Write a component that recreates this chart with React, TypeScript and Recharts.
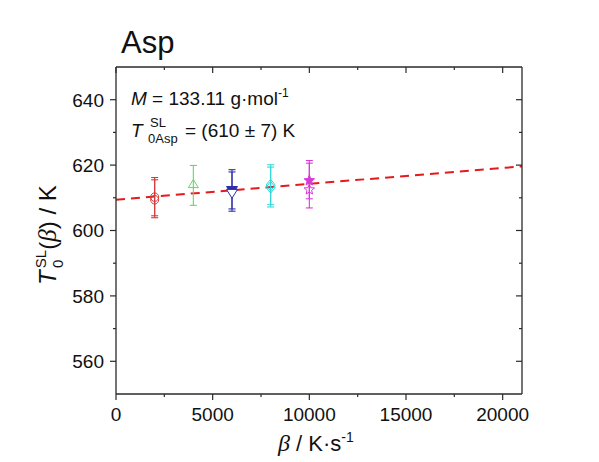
import React from 'react';
import { ComposedChart, XAxis, YAxis, Scatter, Line, ErrorBar, Label } from 'recharts';

const SANS = '"Liberation Sans", Arial, sans-serif';
const SERIF = '"Liberation Serif", "Times New Roman", serif';
const AXIS = '#2a2a2a';

// heating rates β / K·s⁻¹
const rates = [2000, 4000, 6000, 8000, 10000];
const seriesColors = ['#d23a3a', '#66d866', '#2e2eaa', '#33d8d8', '#d83ad8'];
const seriesShapes = ['circle', 'triangle', 'triangleDown', 'diamond', 'star'];

// first measurement run
const runAValues = [610.2, 614.2, 612.3, 613.9, 615.3];
const runALow = [5.7, 6.5, 5.7, 6.0, 5.6];
const runAHigh = [6.0, 5.7, 6.3, 6.2, 5.3];
const runAFill = ['none', 'none', 'solid', 'none', 'solid'];

// second measurement run
const runBValues = [609.4, null, 611.4, 613.2, 612.5];
const runBLow = [5.5, null, 5.5, 6.0, 5.6];
const runBHigh = [6.1, null, 6.5, 6.2, 8.9];
const runBFill = ['none', 'none', 'white', 'none', 'none'];

// linear fit
const fitBeta = [0, 21000];
const fitT = [609.4, 619.6];

// ticks
const xTicks = [0, 2500, 5000, 7500, 10000, 12500, 15000, 17500, 20000];
const xMajor = [0, 5000, 10000, 15000, 20000];
const yTicks = [560, 570, 580, 590, 600, 610, 620, 630, 640];
const yMajor = [560, 580, 600, 620, 640];

const fitData = fitBeta.map((b, i) => ({ beta: b, T: fitT[i] }));

const groups = rates.map((beta, i) => {
  const pts: any[] = [];
  pts.push({ beta, T: runAValues[i], err: [runALow[i], runAHigh[i]], color: seriesColors[i], shape: seriesShapes[i], fill: runAFill[i] });
  if (runBValues[i] != null) {
    pts.push({ beta, T: runBValues[i], err: [runBLow[i], runBHigh[i]], color: seriesColors[i], shape: seriesShapes[i], fill: runBFill[i] });
  }
  return { color: seriesColors[i], points: pts };
});

function starPoints(cx: number, cy: number, ro: number, ri: number) {
  const p: string[] = [];
  for (let k = 0; k < 10; k++) {
    const r = k % 2 === 0 ? ro : ri;
    const a = -Math.PI / 2 + (k * Math.PI) / 5;
    p.push(`${cx + r * Math.cos(a)},${cy + r * Math.sin(a)}`);
  }
  return p.join(' ');
}

const Marker = (props: any) => {
  const { cx, cy, payload } = props;
  if (cx == null || cy == null) return <g />;
  const color = payload.color;
  const fill = payload.fill === 'solid' ? color : payload.fill === 'white' ? '#ffffff' : 'none';
  const common = { stroke: color, strokeWidth: 1, fill };
  switch (payload.shape) {
    case 'circle':
      return <ellipse cx={cx} cy={cy} rx={4} ry={4.3} {...common} />;
    case 'triangle':
      return <polygon points={`${cx},${cy - 4.5} ${cx + 5},${cy + 3.5} ${cx - 5},${cy + 3.5}`} {...common} />;
    case 'triangleDown':
      return <polygon points={`${cx - 5.5},${cy - 3.8} ${cx + 5.5},${cy - 3.8} ${cx},${cy + 5}`} {...common} />;
    case 'diamond':
      return <polygon points={`${cx},${cy - 5.8} ${cx + 4.6},${cy} ${cx},${cy + 5.8} ${cx - 4.6},${cy}`} {...common} />;
    case 'star':
      return <polygon points={starPoints(cx, cy, 5.5, 2.4)} {...common} />;
    default:
      return <g />;
  }
};

const BottomTick = (props: any) => {
  const { x, y, payload } = props;
  const major = xMajor.includes(payload.value);
  return (
    <g>
      <line x1={x} y1={y} x2={x} y2={y + (major ? 6 : 3)} stroke={AXIS} strokeWidth={1.2} />
      {major && (
        <text x={x} y={y + 27} textAnchor="middle" fontFamily={SANS} fontSize={19} fill="#111">
          {payload.value}
        </text>
      )}
    </g>
  );
};

const TopTick = (props: any) => {
  const { x, y, payload } = props;
  const major = xMajor.includes(payload.value);
  return <line x1={x} y1={y} x2={x} y2={y + (major ? 6 : 3)} stroke={AXIS} strokeWidth={1.2} />;
};

const LeftTick = (props: any) => {
  const { x, y, payload } = props;
  const major = yMajor.includes(payload.value);
  return (
    <g>
      <line x1={x - (major ? 6 : 3)} y1={y} x2={x} y2={y} stroke={AXIS} strokeWidth={1.2} />
      {major && (
        <text x={x - 12} y={y + 6.8} textAnchor="end" fontFamily={SANS} fontSize={19} fill="#111">
          {payload.value}
        </text>
      )}
    </g>
  );
};

const RightTick = (props: any) => {
  const { x, y, payload } = props;
  const major = yMajor.includes(payload.value);
  return <line x1={x - (major ? 6 : 3)} y1={y} x2={x} y2={y} stroke={AXIS} strokeWidth={1.2} />;
};

const XTitle = (props: any) => {
  const vb = props.viewBox || { x: 116, y: 394, width: 406 };
  const cx = vb.x + vb.width / 2;
  return (
    <text x={cx - 41} y={vb.y + 57} fontFamily={SANS} fontSize={22} fill="#111">
      <tspan fontFamily={SERIF} fontStyle="italic" fontSize={24}>β</tspan>
      <tspan> / K·s</tspan>
      <tspan fontSize={14} dy={-9}>-1</tspan>
    </text>
  );
};

const YTitle = (props: any) => {
  const vb = props.viewBox || { x: 0, y: 67 };
  const x = vb.x + 56;
  const y = vb.y + 218;
  return (
    <text transform={`translate(${x}, ${y}) rotate(-90)`} x={0} y={0} fontFamily={SANS} fontSize={24} fill="#111">
      <tspan fontStyle="italic">T</tspan>
      <tspan fontSize={15} dx={2} dy={-10}>SL</tspan>
      <tspan fontSize={15} dx={-18} dy={17}>0</tspan>
      <tspan dx={10} dy={-7}>(</tspan>
      <tspan fontFamily={SERIF} fontStyle="italic" fontSize={25}>β</tspan>
      <tspan>) / K</tspan>
    </text>
  );
};

export default function App() {
  return (
    <div style={{ position: 'fixed', left: 0, top: 0, width: 599, height: 462, background: '#ffffff' }}>
      <ComposedChart width={599} height={462} margin={{ top: 66, right: 76, bottom: 0, left: 0 }}>
        <XAxis
          xAxisId="b"
          dataKey="beta"
          type="number"
          domain={[0, 21000]}
          ticks={xTicks}
          interval={0}
          tick={(p: any) => <BottomTick {...p} />}
          tickLine={false}
          tickSize={0}
          tickMargin={0}
          height={68}
          axisLine={{ stroke: AXIS, strokeWidth: 1.3 }}
          allowDataOverflow
        >
          <Label content={XTitle} />
        </XAxis>
        <XAxis
          xAxisId="t"
          orientation="top"
          dataKey="beta"
          type="number"
          domain={[0, 21000]}
          ticks={xTicks}
          interval={0}
          tick={(p: any) => <TopTick {...p} />}
          tickLine={false}
          tickSize={0}
          tickMargin={0}
          height={1}
          axisLine={{ stroke: AXIS, strokeWidth: 1.3 }}
          allowDataOverflow
        />
        <YAxis
          yAxisId="l"
          dataKey="T"
          type="number"
          domain={[550, 650]}
          ticks={yTicks}
          interval={0}
          tick={(p: any) => <LeftTick {...p} />}
          tickLine={false}
          tickSize={0}
          tickMargin={0}
          width={116}
          axisLine={{ stroke: AXIS, strokeWidth: 1.3 }}
          allowDataOverflow
        >
          <Label content={YTitle} />
        </YAxis>
        <YAxis
          yAxisId="r"
          orientation="right"
          dataKey="T"
          type="number"
          domain={[550, 650]}
          ticks={yTicks}
          interval={0}
          tick={(p: any) => <RightTick {...p} />}
          tickLine={false}
          tickSize={0}
          tickMargin={0}
          width={1}
          axisLine={{ stroke: AXIS, strokeWidth: 1.3 }}
          allowDataOverflow
        />
        <Line
          xAxisId="t"
          yAxisId="r"
          data={fitData}
          dataKey="T"
          stroke="none"
          dot={false}
          activeDot={false}
          isAnimationActive={false}
        />
        <Line
          xAxisId="b"
          yAxisId="l"
          data={fitData}
          dataKey="T"
          stroke="#e41a1c"
          strokeWidth={2}
          strokeDasharray="9 6"
          dot={false}
          activeDot={false}
          isAnimationActive={false}
        />
        {groups.map((g, i) => (
          <Scatter
            key={i}
            xAxisId="b"
            yAxisId="l"
            data={g.points}
            dataKey="T"
            shape={Marker}
            isAnimationActive={false}
          >
            <ErrorBar dataKey="err" direction="y" width={3.5} stroke={g.color} strokeWidth={1.1} />
          </Scatter>
        ))}
      </ComposedChart>
      <svg width={599} height={462} style={{ position: 'absolute', left: 0, top: 0, pointerEvents: 'none' }}>
        <text x={121} y={53} fontFamily={SANS} fontSize={31} fill="#111">Asp</text>
        <text x={131} y={105} fontFamily={SANS} fontSize={19} fill="#111">
          <tspan fontStyle="italic">M</tspan>
          <tspan> = 133.11 g·mol</tspan>
          <tspan fontSize={12} dy={-8}>-1</tspan>
        </text>
        <text x={131} y={137} fontFamily={SANS} fontSize={19} fill="#111">
          <tspan fontStyle="italic">T</tspan>
        </text>
        <text x={150} y={127} fontFamily={SANS} fontSize={13} fill="#111">SL</text>
        <text x={148} y={143} fontFamily={SANS} fontSize={13} fill="#111">0Asp</text>
        <text x={185} y={137} fontFamily={SANS} fontSize={19} fill="#111">= (610 ± 7) K</text>
      </svg>
    </div>
  );
}
